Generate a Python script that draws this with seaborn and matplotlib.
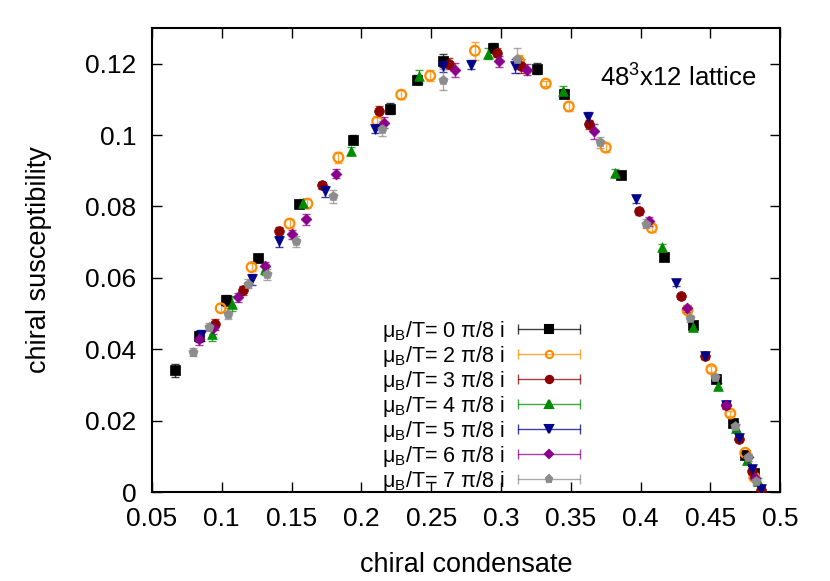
import seaborn as sns
import matplotlib.pyplot as plt
import pandas as pd
from matplotlib.lines import Line2D
from matplotlib.legend_handler import HandlerBase

# chiral condensate (x), chiral susceptibility (y), error on y
x_mu0 = [0.0666, 0.0836, 0.1029, 0.1257, 0.1557, 0.1943, 0.2207, 0.2400, 0.2586, 0.2943,
         0.3257, 0.3450, 0.3857, 0.4171, 0.4379, 0.4543, 0.4664, 0.4750, 0.4814]
y_mu0 = [0.0341, 0.0436, 0.0537, 0.0655, 0.0806, 0.0987, 0.1074, 0.1155, 0.1208, 0.1245,
         0.1186, 0.1116, 0.0889, 0.0657, 0.0467, 0.0316, 0.0193, 0.0103, 0.0053]
e_mu0 = [0.0018, 0.0015, 0.0015, 0.0010, 0.0008, 0.0012, 0.0015, 0.0012, 0.0018, 0.0012,
         0.0015, 0.0012, 0.0008, 0.0008, 0.0008, 0.0008, 0.0008, 0.0008, 0.0008]

x_mu2 = [0.0993, 0.1214, 0.1486, 0.1614, 0.1836, 0.2114, 0.2286, 0.2493, 0.2814, 0.3129,
         0.3321, 0.3486, 0.3750, 0.4080, 0.4336, 0.4507, 0.4643, 0.4750, 0.4814]
y_mu2 = [0.0515, 0.0630, 0.0752, 0.0808, 0.0937, 0.1038, 0.1113, 0.1166, 0.1236, 0.1208,
         0.1144, 0.1080, 0.0965, 0.0740, 0.0509, 0.0344, 0.0220, 0.0110, 0.0042]
e_mu2 = [0.0012, 0.0012, 0.0012, 0.0012, 0.0015, 0.0015, 0.0012, 0.0015, 0.0025, 0.0015,
         0.0008, 0.0012, 0.0012, 0.0012, 0.0008, 0.0008, 0.0008, 0.0008, 0.0008]

x_mu3 = [0.0950, 0.1150, 0.1407, 0.1721, 0.2129, 0.2629, 0.2971, 0.3143, 0.3630, 0.3986,
         0.4293, 0.4464, 0.4614, 0.4707, 0.4800, 0.4864]
y_mu3 = [0.0470, 0.0565, 0.0730, 0.0859, 0.1066, 0.1200, 0.1231, 0.1194, 0.1030, 0.0786,
         0.0548, 0.0380, 0.0243, 0.0150, 0.0060, 0.0006]
e_mu3 = [0.0015, 0.0012, 0.0012, 0.0010, 0.0015, 0.0015, 0.0012, 0.0020, 0.0012, 0.0010,
         0.0008, 0.0008, 0.0008, 0.0008, 0.0008, 0.0008]

x_mu4 = [0.0929, 0.1071, 0.1307, 0.1579, 0.1929, 0.2414, 0.2907, 0.3443, 0.3820, 0.4157,
         0.4379, 0.4557, 0.4680, 0.4760, 0.4840]
y_mu4 = [0.0442, 0.0528, 0.0624, 0.0811, 0.0955, 0.1164, 0.1228, 0.1124, 0.0895, 0.0685,
         0.0462, 0.0297, 0.0180, 0.0090, 0.0030]
e_mu4 = [0.0018, 0.0020, 0.0015, 0.0010, 0.0012, 0.0018, 0.0015, 0.0012, 0.0010, 0.0010,
         0.0010, 0.0008, 0.0010, 0.0010, 0.0010]

x_mu5 = [0.0850, 0.1214, 0.1407, 0.1743, 0.2100, 0.2586, 0.2786, 0.3100, 0.3620, 0.3964,
         0.4257, 0.4464, 0.4614, 0.4707, 0.4800, 0.4864]
y_mu5 = [0.0439, 0.0596, 0.0702, 0.0842, 0.1018, 0.1192, 0.1197, 0.1194, 0.1050, 0.0820,
         0.0585, 0.0382, 0.0245, 0.0152, 0.0064, 0.0010]
e_mu5 = [0.0015, 0.0015, 0.0015, 0.0015, 0.0012, 0.0015, 0.0012, 0.0020, 0.0015, 0.0010,
         0.0008, 0.0008, 0.0008, 0.0008, 0.0008, 0.0008]

x_mu6 = [0.0836, 0.0936, 0.1114, 0.1307, 0.1507, 0.1607, 0.1821, 0.2164, 0.2671, 0.2986,
         0.3186, 0.3670, 0.4057, 0.4329, 0.4614, 0.4771, 0.4820]
y_mu6 = [0.0428, 0.0459, 0.0545, 0.0632, 0.0722, 0.0764, 0.0892, 0.1035, 0.1183, 0.1206,
         0.1183, 0.1010, 0.0758, 0.0515, 0.0243, 0.0098, 0.0040]
e_mu6 = [0.0015, 0.0015, 0.0012, 0.0012, 0.0012, 0.0015, 0.0012, 0.0015, 0.0020, 0.0015,
         0.0015, 0.0020, 0.0012, 0.0010, 0.0010, 0.0010, 0.0010]

x_mu7 = [0.0793, 0.0907, 0.1043, 0.1186, 0.1321, 0.1529, 0.1800, 0.2150, 0.2586, 0.3114,
         0.3710, 0.4040, 0.4357, 0.4536, 0.4679, 0.4771, 0.4830]
y_mu7 = [0.0392, 0.0462, 0.0500, 0.0584, 0.0610, 0.0702, 0.0828, 0.1018, 0.1155, 0.1214,
         0.0980, 0.0752, 0.0487, 0.0322, 0.0185, 0.0098, 0.0030]
e_mu7 = [0.0012, 0.0012, 0.0015, 0.0012, 0.0015, 0.0015, 0.0018, 0.0020, 0.0030, 0.0030,
         0.0015, 0.0012, 0.0010, 0.0010, 0.0010, 0.0010, 0.0010]

mu_values = [0, 2, 3, 4, 5, 6, 7]
xs = [x_mu0, x_mu2, x_mu3, x_mu4, x_mu5, x_mu6, x_mu7]
ys = [y_mu0, y_mu2, y_mu3, y_mu4, y_mu5, y_mu6, y_mu7]
es = [e_mu0, e_mu2, e_mu3, e_mu4, e_mu5, e_mu6, e_mu7]

colors = ['black', '#ff8c00', '#8b0000', '#008b00', '#00008b', '#8b008b', '#8c8c8c']
markers = ['s', 'o', 'o', '^', 'v', 'D', 'p']
msizes = [7.5, 7, 7, 7, 7, 5.5, 7]

sns.set_style("ticks")
plt.rcParams['font.family'] = ['Liberation Sans', 'DejaVu Sans']
plt.rcParams['mathtext.fontset'] = 'custom'
plt.rcParams['mathtext.rm'] = 'Liberation Sans'
plt.rcParams['text.color'] = 'black'
plt.rcParams['axes.labelcolor'] = 'black'
plt.rcParams['axes.edgecolor'] = 'black'
plt.rcParams['xtick.color'] = 'black'
plt.rcParams['ytick.color'] = 'black'


class HBarHandler(HandlerBase):
    # gnuplot-like key sample: horizontal error bar with caps and a marker
    def create_artists(self, legend, orig, xd, yd, w, h, fs, trans):
        y = h / 2 - yd
        bar = Line2D([-xd, -xd + w], [y, y], color=orig.get_color(), lw=1,
                     alpha=0.75, marker='|', markersize=7, markeredgewidth=1)
        mk = Line2D([-xd + w / 2], [y], linestyle='none', marker=orig.get_marker(),
                    markersize=orig.get_markersize() * 0.75,
                    markerfacecolor=orig.get_markerfacecolor(),
                    markeredgecolor=orig.get_markeredgecolor(),
                    markeredgewidth=1.5)
        for a in (bar, mk):
            a.set_transform(trans)
        return [bar, mk]


fig, ax = plt.subplots(figsize=(8.3, 5.81), dpi=100)
fig.subplots_adjust(left=0.183, right=0.940, bottom=0.153, top=0.952)

handles = []
for mu, x, y, e, c, m, ms in zip(mu_values, xs, ys, es, colors, markers, msizes):
    df = pd.DataFrame({'x': x, 'y': y, 'e': e})
    ax.errorbar(df['x'], df['y'], yerr=df['e'], fmt='none', ecolor=c, elinewidth=1,
                capsize=3, capthick=1, alpha=0.75, zorder=2)
    if mu == 2:
        sns.scatterplot(data=df, x='x', y='y', marker=m, s=ms ** 2, facecolor='none',
                        edgecolor=c, linewidth=1.6, ax=ax, zorder=3)
        fc = 'none'
    else:
        sns.scatterplot(data=df, x='x', y='y', marker=m, s=ms ** 2, color=c,
                        edgecolor=c, linewidth=0.5, ax=ax, zorder=3)
        fc = c
    handles.append(Line2D([], [], color=c, marker=m, markersize=ms,
                          markerfacecolor=fc, markeredgecolor=c,
                          label=r'μ$_\mathregular{B}$/T= %d π/8 i' % mu))

ax.set_xlim(0.05, 0.5)
ax.set_ylim(0, 0.13)
ax.set_xticks([0.05, 0.1, 0.15, 0.2, 0.25, 0.3, 0.35, 0.4, 0.45, 0.5])
ax.set_xticklabels(['0.05', '0.1', '0.15', '0.2', '0.25', '0.3', '0.35', '0.4', '0.45', '0.5'])
ax.set_yticks([0, 0.02, 0.04, 0.06, 0.08, 0.1, 0.12])
ax.set_yticklabels(['0', '0.02', '0.04', '0.06', '0.08', '0.1', '0.12'])
ax.tick_params(direction='in', top=True, right=True, length=7, width=1,
               labelsize=19, pad=11)
for sp in ax.spines.values():
    sp.set_linewidth(1.5)

ax.set_xlabel('chiral condensate', fontsize=19.5, labelpad=15)
ax.set_ylabel('chiral susceptibility', fontsize=19.5, labelpad=24)

ax.text(0.963, 0.894, r'48$^\mathregular{3}$x12 lattice', transform=ax.transAxes,
        ha='right', va='center', fontsize=18.5)

ax.legend(handles=handles, loc='lower right', bbox_to_anchor=(0.706, -0.036),
          frameon=False, markerfirst=False, fontsize=15.5, labelspacing=0.0,
          handlelength=2.9, handletextpad=0.6, borderpad=0.2,
          handler_map={Line2D: HBarHandler()})

plt.savefig('out.png', dpi=100)
